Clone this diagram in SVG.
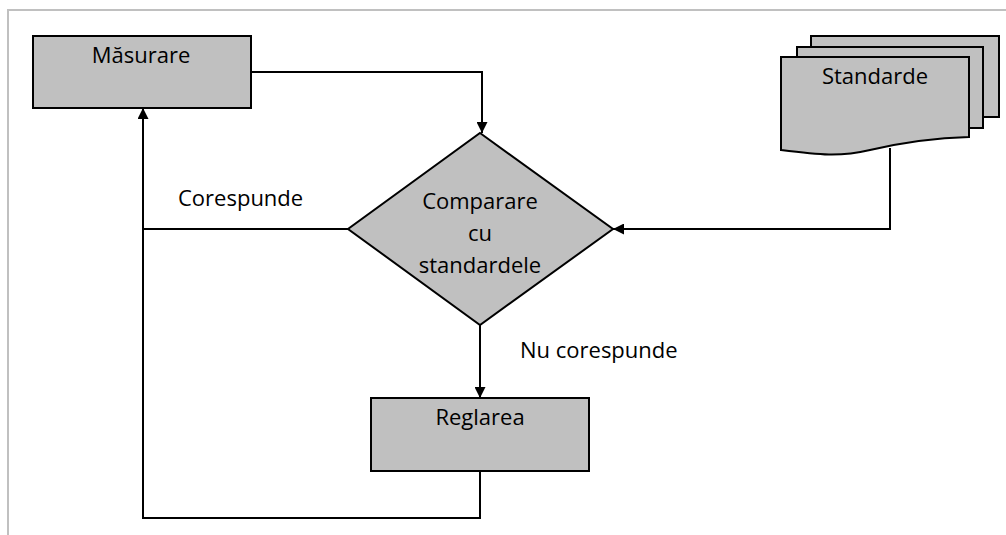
<svg xmlns="http://www.w3.org/2000/svg" width="1006" height="535" viewBox="0 0 1006 535">
<style>
.shape{fill:#c0c0c0;stroke:#000;stroke-width:2}
.txt{font-family:"Open Sans","Noto Sans",sans-serif;font-size:22px;fill:#000;text-anchor:middle}
.lbl{font-family:"Open Sans","Noto Sans",sans-serif;font-size:22px;fill:#000}
.conn{fill:none;stroke:#000;stroke-width:2}
</style>
<defs>
<marker id="arr" viewBox="0 0 10 10" refX="10" refY="5" markerWidth="11" markerHeight="11" markerUnits="userSpaceOnUse" orient="auto">
<path d="M0,0 L10,5 L0,10 Z" fill="#000"/>
</marker>
</defs>
<rect width="1006" height="535" fill="#fff"/>
<g id="frame" stroke="#c0c0c0" stroke-width="2" fill="none">
<path d="M8,535 V10 H1006"/>
</g>
<g id="connectors">
<path class="conn" d="M251,72 H482 V133" marker-end="url(#arr)"/>
<path class="conn" d="M890,148 V229 H613" marker-end="url(#arr)"/>
<path class="conn" d="M348,229 H143 V108" marker-end="url(#arr)"/>
<path class="conn" d="M480,325 V398" marker-end="url(#arr)"/>
<path class="conn" d="M480,471 V518 H143 V229"/>
</g>
<g id="masurare">
<rect class="shape" x="33" y="36" width="218" height="72"/>
<text class="txt" x="141" y="63">Măsurare</text>
</g>
<g id="standarde">
<rect class="shape" x="811" y="36" width="188" height="81"/>
<rect class="shape" x="797" y="47" width="186" height="81"/>
<path class="shape" d="M781,57 H969 V137 C930,138 900,143 870,150 C840,157 820,155 781,150 Z"/>
<text class="txt" x="875" y="84">Standarde</text>
</g>
<g id="comparare">
<polygon class="shape" points="480,133 613,229 480,325 348,229"/>
<text class="txt" x="480" y="209">Comparare</text>
<text class="txt" x="480" y="241">cu</text>
<text class="txt" x="480" y="273">standardele</text>
</g>
<g id="reglarea">
<rect class="shape" x="371" y="398" width="218" height="73"/>
<text class="txt" x="480" y="425">Reglarea</text>
</g>
<g id="labels">
<text class="lbl" x="178" y="206">Corespunde</text>
<text class="lbl" x="520" y="358">Nu corespunde</text>
</g>
</svg>
